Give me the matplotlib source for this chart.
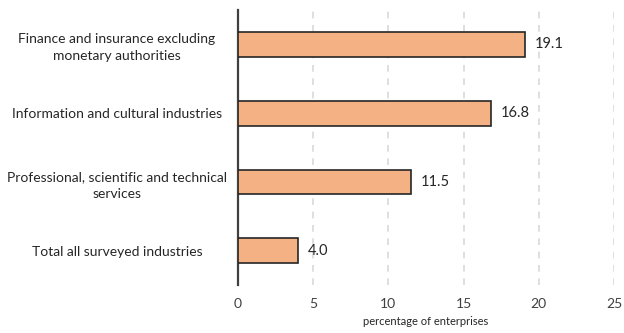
import matplotlib.pyplot as plt

industries = [
    "Finance and insurance excluding\nmonetary authorities",
    "Information and cultural industries",
    "Professional, scientific and technical\nservices",
    "Total all surveyed industries",
]
percentages = [19.1, 16.8, 11.5, 4.0]
xticks = [0, 5, 10, 15, 20, 25]

plt.rcParams["font.family"] = ["Lato", "DejaVu Sans"]

fig = plt.figure(figsize=(6.24, 3.33), dpi=100)
ax = fig.add_axes([0.3814, 0.144, 0.6026, 0.826])

pos = list(range(len(industries)))
ax.barh(pos, percentages, height=0.36, color="#F4B183",
        edgecolor="#262626", linewidth=1.2, zorder=3)

for p, v in zip(pos, percentages):
    ax.text(v + 0.65, p, f"{v:.1f}", va="center", ha="left",
            fontsize=10.5, color="#262626")

ax.set_xlim(0, 25)
ax.set_ylim(3.5, -0.5)
ax.set_xticks(xticks)
ax.set_yticks(pos)
ax.set_yticklabels(industries, fontsize=10, color="#262626", ha="center",
                   multialignment="center", linespacing=1.5)
ax.tick_params(axis="y", length=0, pad=0)
ax.tick_params(axis="x", length=0, pad=9, labelsize=10, labelcolor="#404040")

# center the category labels in the space left of the axis
for lbl in ax.get_yticklabels():
    lbl.set_x(-0.322)

ax.xaxis.grid(True, linestyle=(0, (4, 4)), color="#D9D9D9", linewidth=1.2, zorder=0)
for s in ["top", "right", "bottom"]:
    ax.spines[s].set_visible(False)
ax.spines["left"].set_color("#404040")
ax.spines["left"].set_linewidth(1.6)

ax.set_xlabel("percentage of enterprises", fontsize=8, color="#262626", labelpad=5)

fig.savefig("out.png", dpi=100)
